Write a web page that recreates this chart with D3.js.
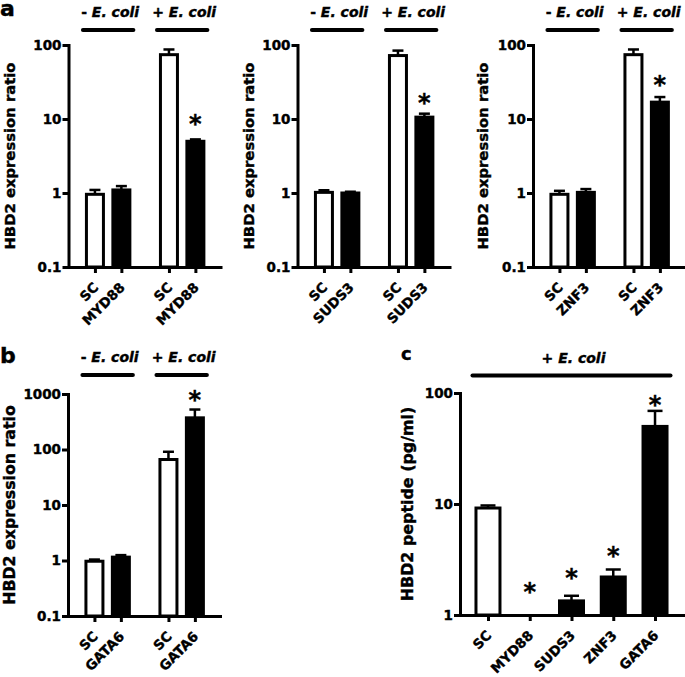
<!DOCTYPE html>
<html>
<head>
<meta charset="utf-8">
<script src="https://cdn.jsdelivr.net/npm/d3@7/dist/d3.min.js"></script>
<style>
  body { margin: 0; background: #fff; }
  svg { display: block; font-family: "DejaVu Sans", sans-serif; font-weight: bold; }
  svg text { stroke: #000; stroke-width: 0.4px; }
</style>
</head>
<body>
<div id="chart-area"></div>
<script>
// ---- data ----
const exprTicks = [0.1, 1, 10, 100]
const exprTickLabels = ["0.1", "1", "10", "100"]
const gata6Ticks = [0.1, 1, 10, 100, 1000]
const gata6TickLabels = ["0.1", "1", "10", "100", "1000"]
const peptideTicks = [1, 10, 100]
const peptideTickLabels = ["1", "10", "100"]

const groupSigns = ["- ", "+ "]

const myd88Cats = ["SC", "MYD88", "SC", "MYD88"]
const myd88Mean = [0.96, 1.1, 74, 5.0]
const myd88Err = [1.1, 1.24, 87, 5.3]
const myd88Star = [null, null, null, 9.9]

const suds3Cats = ["SC", "SUDS3", "SC", "SUDS3"]
const suds3Mean = [1.02, 1.0, 72, 10.6]
const suds3Err = [1.09, 1.04, 84, 11.8]
const suds3Star = [null, null, null, 19.3]

const znf3Cats = ["SC", "ZNF3", "SC", "ZNF3"]
const znf3Mean = [0.96, 1.02, 74, 16.9]
const znf3Err = [1.07, 1.13, 87, 19.8]
const znf3Star = [null, null, null, 33.7]

const gata6Cats = ["SC", "GATA6", "SC", "GATA6"]
const gata6Mean = [0.97, 1.15, 66, 372]
const gata6Err = [1.04, 1.25, 91, 525]
const gata6Star = [null, null, null, 968]

const peptideCats = ["SC", "MYD88", "SUDS3", "ZNF3", "GATA6"]
const peptideMean = [9.2, 1, 1.34, 2.2, 50]
const peptideErr = [9.7, 1, 1.49, 2.57, 69]
const peptideStar = [null, 1.79, 2.39, 3.77, 85.6]

const svg = d3.select("#chart-area").append("svg")
  .attr("width", 685)
  .attr("height", 677)

// two-group layout (SC / knockdown, - and + E. coli)
const pairScale = d3.scaleLinear().domain([0, 5.75]).range([0, 152])
const pairX = i => pairScale(i + 1 + (i >= 2 ? 0.8 : 0))

function panel(o) {
  const g = svg.append("g").attr("transform", `translate(${o.left}, 0)`)

  const y = d3.scaleLog().domain(o.domain).range([o.bottom, o.top])

  // y axis
  const yAxis = g.append("g")
    .call(d3.axisLeft(y)
      .tickValues(o.ticks)
      .tickFormat((d, i) => o.tickLabels[i])
      .tickSize(6)
      .tickSizeOuter(0)
      .tickPadding(1))
  yAxis.attr("font-family", null).attr("font-size", null)
  yAxis.select(".domain").attr("stroke-width", 3).attr("stroke-linecap", "square")
  yAxis.selectAll(".tick line").attr("stroke-width", 3)
  yAxis.selectAll(".tick text").attr("font-size", o.tickSize + "px").attr("fill", "#000")

  // x axis (line + ticks only)
  const xLin = d3.scaleLinear().domain([0, o.width]).range([0, o.width])
  const xAxis = g.append("g")
    .attr("transform", `translate(0, ${o.bottom})`)
    .call(d3.axisBottom(xLin)
      .tickValues(o.cats.map((d, i) => o.xPos(i)))
      .tickFormat("")
      .tickSize(6)
      .tickSizeOuter(0))
  xAxis.select(".domain").attr("stroke-width", 3).attr("stroke-linecap", "square")
  xAxis.selectAll(".tick line").attr("stroke-width", 3)

  // rotated category labels, each inside its own rotated group
  const xl = g.selectAll(".xlab")
    .data(o.cats)
    .join("g")
      .attr("class", "xlab")
      .attr("transform", (d, i) => `translate(${o.xPos(i) + 1},${o.bottom + 18}) rotate(-45)`)
  xl.append("text")
    .attr("text-anchor", "end")
    .attr("dy", "0.35em")
    .attr("font-size", "13.5px")
    .text(d => d)

  const rows = o.cats.map((c, i) => ({ c, i, mean: o.mean[i], err: o.err[i], star: o.star[i] }))
  const inner = o.bw - 3

  // bars
  g.selectAll(".bar")
    .data(rows.filter(d => d.mean > o.domain[0]))
    .join("rect")
      .attr("class", "bar")
      .attr("x", d => o.xPos(d.i) - inner / 2)
      .attr("width", inner)
      .attr("y", d => y(d.mean))
      .attr("height", d => o.bottom - y(d.mean))
      .attr("fill", d => d.c === "SC" ? "#fff" : "#000")
      .attr("stroke", "#000")
      .attr("stroke-width", 3)

  // error bars (upper only)
  const eb = rows.filter(d => d.err > d.mean)
  g.selectAll(".errv")
    .data(eb)
    .join("line")
      .attr("x1", d => o.xPos(d.i)).attr("x2", d => o.xPos(d.i))
      .attr("y1", d => y(d.mean)).attr("y2", d => y(d.err))
      .attr("stroke", "#000").attr("stroke-width", 2.5)
  g.selectAll(".errc")
    .data(eb)
    .join("line")
      .attr("x1", d => o.xPos(d.i) - o.cap / 2).attr("x2", d => o.xPos(d.i) + o.cap / 2)
      .attr("y1", d => y(d.err)).attr("y2", d => y(d.err))
      .attr("stroke", "#000").attr("stroke-width", 2.5)

  // significance stars
  g.selectAll(".star")
    .data(rows.filter(d => d.star != null))
    .join("text")
      .attr("x", d => o.xPos(d.i))
      .attr("y", d => y(d.star))
      .attr("dy", "0.54em")
      .attr("text-anchor", "middle")
      .attr("font-size", "24px")
      .text("*")

  // treatment groups
  o.groups.forEach(gr => {
    const x1 = o.xPos(gr.from) - o.bw / 2 - 2
    const x2 = o.xPos(gr.to) + o.bw / 2 + 2
    g.append("line")
      .attr("x1", x1).attr("x2", x2)
      .attr("y1", o.lineY).attr("y2", o.lineY)
      .attr("stroke", "#000").attr("stroke-width", 4)
      .attr("stroke-linecap", "round")
    const t = g.append("text")
      .attr("x", (x1 + x2) / 2 + 2)
      .attr("y", o.lineY - 13)
      .attr("text-anchor", "middle")
      .attr("font-size", "14px")
    t.append("tspan").text(gr.sign)
    t.append("tspan").attr("font-style", "italic").text("E. coli")
  })

  // y label
  svg.append("text")
    .attr("transform", `translate(${o.labelX}, ${(o.top + o.bottom) / 2}) rotate(-90)`)
    .attr("text-anchor", "middle")
    .attr("font-size", o.labelSize + "px")
    .text(o.label)
}

const pairGroups = [
  { sign: groupSigns[0], from: 0, to: 1 },
  { sign: groupSigns[1], from: 2, to: 3 }
]

const exprBase = {
  top: 45, bottom: 267, width: 152, domain: [0.1, 100],
  ticks: exprTicks, tickLabels: exprTickLabels, tickSize: 13.5,
  xPos: pairX, bw: 20, cap: 11, groups: pairGroups, lineY: 30,
  label: "HBD2 expression ratio", labelSize: 14.8
}

panel({ ...exprBase, left: 68.5, labelX: 15.2, cats: myd88Cats, mean: myd88Mean, err: myd88Err, star: myd88Star })
panel({ ...exprBase, left: 297.5, labelX: 254, cats: suds3Cats, mean: suds3Mean, err: suds3Err, star: suds3Star })
panel({ ...exprBase, left: 533, labelX: 488, cats: znf3Cats, mean: znf3Mean, err: znf3Err, star: znf3Star })

panel({
  ...exprBase, left: 68, top: 394, bottom: 616, domain: [0.1, 1000],
  ticks: gata6Ticks, tickLabels: gata6TickLabels, lineY: 375,
  labelX: 15, labelSize: 15.8,
  cats: gata6Cats, mean: gata6Mean, err: gata6Err, star: gata6Star
})

const peptideScale = d3.scalePoint().domain(d3.range(peptideCats.length)).range([0, 223]).padding(0.67)
panel({
  left: 460, top: 393, bottom: 615, width: 223, domain: [1, 100],
  ticks: peptideTicks, tickLabels: peptideTickLabels, tickSize: 13.5,
  xPos: i => peptideScale(i), bw: 27, cap: 15,
  groups: [{ sign: "+ ", from: 0, to: 4 }], lineY: 375.5,
  label: "HBD2 peptide (pg/ml)", labelSize: 15.9, labelX: 412.5,
  cats: peptideCats, mean: peptideMean, err: peptideErr, star: peptideStar
})

// panel letters
svg.append("text").attr("x", 0).attr("y", 16).attr("font-size", "22px").text("a")
svg.append("text").attr("x", 0).attr("y", 363).attr("font-size", "22px").text("b")
svg.append("text").attr("x", 401).attr("y", 360).attr("font-size", "18px").text("c")
</script>
</body>
</html>
